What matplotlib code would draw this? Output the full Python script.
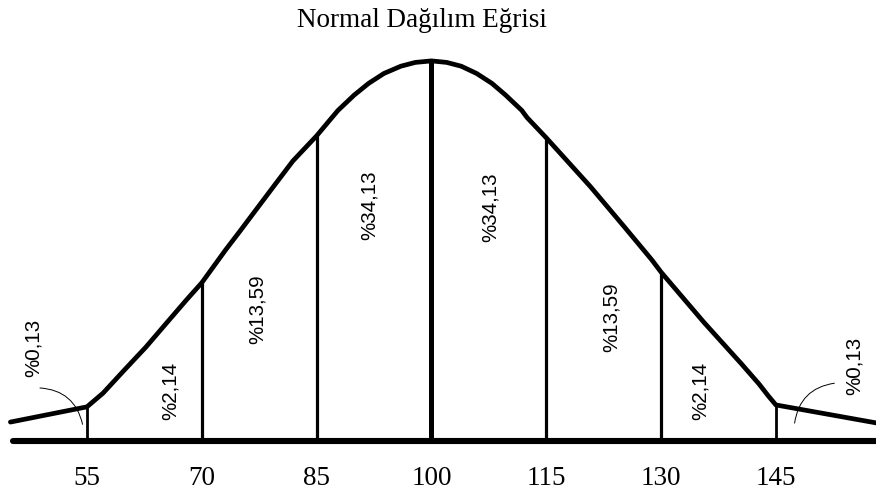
import numpy as np
import matplotlib
matplotlib.use('Agg')
import matplotlib.pyplot as plt

# score boundaries (mean 100, sd 15) and the areas between them
scores = [55, 70, 85, 100, 115, 130, 145]
score_labels = ['55', '70', '85', '100', '115', '130', '145']
area_labels = ['%0,13', '%2,14', '%13,59', '%34,13', '%34,13', '%13,59', '%2,14', '%0,13']

# curve as drawn in the picture (score, height relative to the peak = 100)
curve_x = [45, 55, 57.1, 59.9, 62.7, 65.3, 68.0, 70, 73.1, 75.0, 79.3, 81.9, 85,
           87.0, 87.8, 89.9, 91.8, 93.8, 96.0, 97.9, 100, 102.0, 103.9, 105.9, 107.9,
           109.7, 111.8, 112.5, 115, 120.8, 125.2, 128.8, 130, 135.6, 140.5, 142.8,
           144.0, 145, 160]
curve_h = [5.1, 9.1, 12.7, 18.8, 24.8, 30.9, 37.2, 41.7, 50.3, 55.3, 66.8, 73.7, 80.3,
           85.1, 87.0, 91.0, 94.1, 96.7, 98.6, 99.6, 100, 99.6, 98.6, 96.7, 94.1,
           91.0, 87.0, 85.1, 79.8, 66.9, 56.4, 47.7, 44.5, 31.3, 20.4, 15.1,
           12.0, 9.6, 4.2]

fig = plt.figure(figsize=(8.76, 4.98), dpi=100)
ax = fig.add_axes([0, 0.1135, 1, 0.8865])
ax.set_xlim(43.64, 158.08)
ax.set_ylim(0, 116.0)

# baseline
ax.plot([45.3, 160], [0, 0], color='black', lw=4.4, solid_capstyle='round', clip_on=False, zorder=3)

# the curve
ax.plot(curve_x, curve_h, color='black', lw=3.4, solid_joinstyle='round', solid_capstyle='round', zorder=3)

# vertical lines up to the curve
line_h = np.interp(scores, curve_x, curve_h)
widths = [2.0, 2.3, 2.3, 3.6, 2.3, 2.3, 2.0]
ax.vlines(scores, 0, line_h, colors='black', linewidths=widths, zorder=2)

# area labels, rotated
label_pos = [(47.96, 24.6), (65.9, 13.2), (77.3, 34.8), (91.85, 62.2),
             (107.65, 61.6), (123.45, 32.7), (135.1, 13.2), (155.3, 19.8)]
for txt, (lx, ly) in zip(area_labels, label_pos):
    ax.text(lx, ly, txt, rotation=90, ha='center', va='center',
            fontsize=14.8, family='Liberation Sans', color='black')

# leader lines for the tails
ax.annotate('', xy=(54.5, 3.8), xytext=(48.5, 14.1),
            arrowprops=dict(arrowstyle='-', connectionstyle='arc3,rad=-0.4', lw=0.7, color='black'))
ax.annotate('', xy=(147.4, 4.1), xytext=(153.0, 15.4),
            arrowprops=dict(arrowstyle='-', connectionstyle='arc3,rad=0.4', lw=0.7, color='black'))

ax.set_xticks(scores)
ax.set_xticklabels(score_labels, family='Liberation Serif', fontsize=19.5)
ax.tick_params(axis='x', length=0, pad=17.5)
ax.set_yticks([])
for s in ax.spines.values():
    s.set_visible(False)
ax.patch.set_visible(False)

fig.text(422 / 876, 1 - 27 / 498, 'Normal Dağılım Eğrisi', ha='center', va='baseline',
         family='Liberation Serif', fontsize=19.5)

plt.savefig('out.png', dpi=100)
